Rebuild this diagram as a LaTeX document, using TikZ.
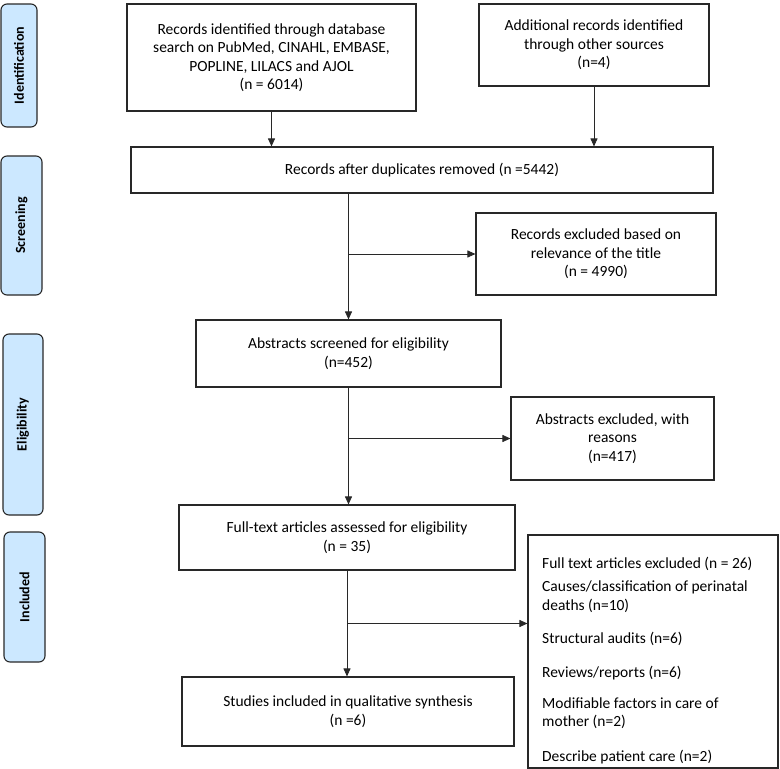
\documentclass[tikz,border=0pt]{standalone}
\usepackage{fontspec}
\setmainfont{Carlito}
\usetikzlibrary{arrows.meta,calc}
\definecolor{phase}{RGB}{204,232,255}
\definecolor{edge}{RGB}{40,40,40}
\begin{document}
\begin{tikzpicture}[x=1pt,y=-1pt,
  every node/.style={font=\fontsize{15.5}{18.4}\selectfont, text=black},
  flowbox/.style={draw=edge, line width=1.1pt, align=center, inner sep=2pt},
  phasebox/.style={draw=edge, line width=1.1pt, fill=phase, rounded corners=6pt, inner sep=0pt},
  phasetext/.style={rotate=90, font=\fontsize{14}{16}\selectfont\bfseries},
  arr/.style={draw=edge, line width=0.9pt, -{Triangle[length=8pt,width=7pt]}},
  ln/.style={draw=edge, line width=0.9pt}]
\useasboundingbox (0,0) rectangle (780,769);

% phase labels
\node[phasebox, minimum width=36pt, minimum height=123pt] (pid) at (19,65.5) {};
\node[phasetext] (tid) at (pid.center) {Identification};
\node[phasebox, minimum width=41pt, minimum height=139pt] (psc) at (21.5,225.5) {};
\node[phasetext] (tsc) at (psc.center) {Screening};
\node[phasebox, minimum width=40pt, minimum height=181pt] (pel) at (23,424.5) {};
\node[phasetext] (tel) at (pel.center) {Eligibility};
\node[phasebox, minimum width=41pt, minimum height=130pt] (pin) at (24.5,597) {};
\node[phasetext] (tin) at (pin.center) {Included};

% flow boxes
\node[flowbox, minimum width=289pt, minimum height=107pt] (db) at (271.5,57.5)
  {Records identified through database\\search on PubMed, CINAHL, EMBASE,\\POPLINE, LILACS and AJOL\\(n = 6014)};
\node[flowbox, minimum width=230pt, minimum height=82pt] (oth) at (594,45)
  {Additional records identified\\through other sources\\(n=4)};
\node[flowbox, minimum width=582pt, minimum height=46pt] (dup) at (422,170)
  {Records after duplicates removed (n =5442)};
\node[flowbox, minimum width=240pt, minimum height=82pt] (rex) at (596,254)
  {Records excluded based on\\relevance of the title\\(n = 4990)};
\node[flowbox, minimum width=305pt, minimum height=67pt] (abs) at (348.5,353.5)
  {Abstracts screened for eligibility\\(n=452)};
\node[flowbox, minimum width=203pt, minimum height=83pt] (aex) at (612.5,438.5)
  {Abstracts excluded, with\\reasons\\(n=417)};
\node[flowbox, minimum width=336pt, minimum height=65pt] (ft) at (347,537.5)
  {Full-text articles assessed for eligibility\\(n = 35)};
\node[flowbox, minimum width=332pt, minimum height=69pt] (inc) at (348,711.5)
  {Studies included in qualitative synthesis\\(n =6)};
\node[flowbox, minimum width=250pt, minimum height=233pt] (fex) at (653,651.5) {};
\node[align=left, anchor=north west, inner sep=0pt] (fext) at (542,557)
  {Full text articles excluded (n = 26)\\[5pt]
   Causes/classification of perinatal\\
   deaths (n=10)\\[15pt]
   Structural audits (n=6)\\[15pt]
   Reviews/reports (n=6)\\[13pt]
   Modifiable factors in care of\\
   mother (n=2)\\[16pt]
   Describe patient care (n=2)};

% connectors
\draw[arr] (db.south) -- (db.south |- dup.north);
\draw[arr] (oth.south) -- (oth.south |- dup.north);
\draw[arr] (abs.north |- dup.south) -- (abs.north);
\coordinate (b1) at (abs.north |- rex.west);
\draw[arr] (b1) -- (rex.west);
\draw[arr] (abs.south) -- (abs.south |- ft.north);
\coordinate (b2) at (abs.south |- aex.west);
\draw[arr] (b2) -- (aex.west);
\draw[arr] (ft.south) -- (ft.south |- inc.north);
\coordinate (b3) at ($(ft.south)!0.5!(ft.south |- inc.north)$);
\draw[arr] (b3) -- (b3 -| fex.west);
\end{tikzpicture}
\end{document}
